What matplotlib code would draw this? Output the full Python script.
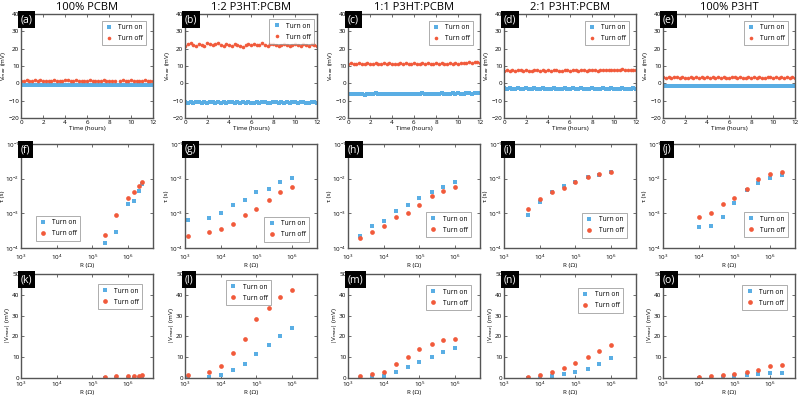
import numpy as np
import matplotlib
matplotlib.use("Agg")
import matplotlib.pyplot as plt

nan = np.nan
titles = ["100% PCBM", "1:2 P3HT:PCBM", "1:1 P3HT:PCBM", "2:1 P3HT:PCBM", "100% P3HT"]
labels_row1 = ["(a)", "(b)", "(c)", "(d)", "(e)"]
labels_row2 = ["(f)", "(g)", "(h)", "(i)", "(j)"]
labels_row3 = ["(k)", "(l)", "(m)", "(n)", "(o)"]

# Row 1: V_max vs time (hours), sampled across 0-12 h
a_on = [-0.9,-1.1,-1.0,-0.8,-1.2,-1.0,-0.9,-1.1,-1.0,-1.2,-0.9,-1.0,-1.1,-0.8,-1.0,-1.2,-1.0,-0.9,-1.1,-1.0,-0.8,-1.0,-1.1,-0.9,-1.2,-1.0,-0.9,-1.0,-1.1,-0.8,-1.0,-1.2,-0.9,-1.0,-1.1,-1.0,-0.9,-1.1,-1.0,-0.8,-1.1,-1.0,-1.2,-0.9,-1.0,-1.1,-0.9,-1.0,-1.1]
a_off = [1.6,1.2,1.8,1.4,1.5,2.0,1.3,1.7,1.1,1.5,1.6,1.2,1.8,1.4,1.6,1.3,1.9,2.1,1.5,1.4,1.7,1.2,1.6,1.5,1.3,1.8,1.4,1.6,1.2,1.5,1.7,1.3,1.6,1.4,1.5,nan,1.5,1.7,1.3,1.6,1.8,1.4,1.5,1.2,1.6,1.7,1.3,1.5,1.4]
b_on = [-10.8,-11.2,-10.9,-11.3,-10.7,-11.0,-11.1,-10.8,-11.2,-10.9,-11.0,-11.3,-10.8,-11.1,-10.9,-11.2,-11.0,-10.8,-11.1,-10.9,-11.3,-11.0,-11.2,-10.9,-11.4,-11.1,-10.9,-11.2,-11.0,-10.8,-11.1,-11.3,-10.9,-11.0,-11.2,-10.8,-11.1,-10.9,-11.3,-11.0,-10.8,-11.2,-11.0,-10.9,-11.1,-11.3,-10.9,-11.0,-11.2]
b_off = [21.5,22.8,23.1,22.0,21.6,22.9,22.4,21.8,23.0,22.5,21.9,22.7,23.2,22.1,21.5,22.6,22.3,21.8,22.9,22.2,21.7,20.8,21.9,22.6,22.3,22.8,21.9,22.4,23.0,22.1,21.8,22.5,22.9,22.2,21.7,22.4,22.8,22.0,21.6,22.3,22.9,22.1,21.8,22.5,22.2,21.7,22.6,22.0,21.8]
c_on = [-6.3,-6.0,-6.4,-6.1,-5.9,-6.2,-6.5,-6.0,-6.3,-6.1,-5.8,-6.2,-6.4,-6.0,-6.3,-6.1,-6.2,-5.9,-6.3,-6.0,-6.4,-6.1,-6.2,-5.9,-6.1,-6.3,-6.0,-5.8,-6.2,-6.0,-6.3,-5.9,-6.1,-6.0,-5.8,-6.2,-5.9,-6.1,-5.8,-6.0,-5.7,-5.9,-6.1,-5.8,-5.6,-5.9,-5.5,-5.7,-5.8]
c_off = [11.2,11.5,11.0,11.4,11.7,11.3,11.1,11.6,11.2,11.4,11.8,11.3,11.0,11.5,11.2,11.6,11.3,11.1,11.4,11.7,11.2,11.5,11.0,11.3,11.6,11.4,11.1,11.5,11.3,11.7,11.2,11.4,11.6,11.3,11.5,11.1,11.4,11.7,11.3,11.6,11.4,11.8,11.5,11.9,12.2,11.8,12.5,12.3,12.0]
d_on = [-2.8,-3.1,-2.9,-3.2,-3.0,-2.8,-3.1,-3.3,-2.9,-3.0,-3.2,-2.9,-3.1,-3.0,-2.8,-3.2,-3.0,-3.1,-2.9,-3.3,-3.0,-3.1,-2.9,-3.2,-3.0,-2.8,-3.1,-3.2,-2.9,-3.0,-3.3,-3.1,-2.9,-3.0,-3.2,-3.1,-2.9,-3.0,-3.2,-2.8,-3.1,-3.0,-3.3,-2.9,-3.1,-3.0,-3.2,-2.9,-3.1]
d_off = [7.2,7.6,7.4,7.8,7.3,7.5,7.7,7.2,7.6,7.4,7.3,7.7,7.5,7.1,7.6,7.4,7.8,7.3,7.5,7.6,7.2,7.4,7.7,7.5,7.3,7.6,7.8,7.4,7.5,7.7,7.3,7.6,7.5,7.8,7.4,7.6,7.7,7.5,7.9,7.6,7.8,7.5,7.7,8.0,7.6,7.8,7.7,7.9,7.6]
e_on = [-1.4,-1.7,-1.5,-1.3,-1.6,-1.8,-1.4,-1.5,-1.7,-1.3,-1.6,-1.5,-1.4,-1.8,-1.5,-1.6,-1.3,-1.7,-1.5,-1.4,-1.6,-1.8,-1.5,-1.3,-1.6,-1.4,-1.7,-1.5,-1.6,-1.3,-1.5,-1.7,-1.4,-1.6,-1.5,-1.8,-1.4,-1.6,-1.5,-1.3,-1.7,-1.5,-1.6,-1.4,-1.8,-1.5,-1.6,-1.4,-1.7]
e_off = [3.4,3.0,3.6,3.2,3.5,3.8,3.1,3.4,3.3,2.9,3.5,3.2,3.6,3.0,3.4,3.3,3.7,3.1,3.5,3.2,3.4,3.0,3.6,3.3,3.1,3.5,3.4,3.2,3.6,3.0,3.3,3.5,3.1,3.4,3.2,3.6,3.3,3.0,3.5,3.4,3.2,3.6,3.1,3.4,3.3,3.5,3.0,3.4,3.2]

# Resistances (Ohm)
R_f = [2.2e5, 4.7e5, 1e6, 1.5e6, 2e6, 2.5e6]
R_g = [1.2e3, 4.7e3, 1e4, 2.2e4, 4.7e4, 1e5, 2.2e5, 4.7e5, 1e6]
R_h = [2.2e3, 4.7e3, 1e4, 2.2e4, 4.7e4, 1e5, 2.2e5, 4.7e5, 1e6]
R_i = [4.7e3, 1e4, 2.2e4, 4.7e4, 1e5, 2.2e5, 4.7e5, 1e6]
R_j = [1e4, 2.2e4, 4.7e4, 1e5, 2.2e5, 4.7e5, 1e6, 2.2e6]

# Row 2: tau (s)
tau_on_f = [1.42e-4, 2.9e-4, 1.8e-3, 2.3e-3, 4.4e-3, 6.9e-3]
tau_off_f = [2.3e-4, 8.8e-4, 2.7e-3, 4.0e-3, 6.3e-3, 8.2e-3]
tau_on_g = [6.6e-4, 7.3e-4, 1.0e-3, 1.75e-3, 2.4e-3, 4.0e-3, 5.2e-3, 7.9e-3, 1.02e-2]
tau_off_g = [2.2e-4, 2.9e-4, 3.6e-4, 5.0e-4, 8.7e-4, 1.3e-3, 2.5e-3, 4.2e-3, 5.8e-3]
tau_on_h = [2.2e-4, 4.3e-4, 5.9e-4, 1.2e-3, 1.7e-3, 2.8e-3, 4.2e-3, 5.6e-3, 8.1e-3]
tau_off_h = [1.9e-4, 2.9e-4, 4.3e-4, 7.8e-4, 1.03e-3, 1.7e-3, 3.1e-3, 4.4e-3, 5.9e-3]
tau_on_i = [8.9e-4, 2.1e-3, 4.2e-3, 6.1e-3, 8.0e-3, 1.13e-2, 1.29e-2, 1.56e-2]
tau_off_i = [1.3e-3, 2.6e-3, 4.2e-3, 5.4e-3, 8.0e-3, 1.09e-2, 1.4e-2, 1.55e-2]
tau_on_j = [4.1e-4, 4.3e-4, 7.8e-4, 2.0e-3, 4.8e-3, 7.4e-3, 1.02e-2, 1.3e-2]
tau_off_j = [7.8e-4, 9.9e-4, 1.8e-3, 2.8e-3, 5.2e-3, 9.6e-3, 1.35e-2, 1.55e-2]

# Row 3: |V_max| (mV)
v_on_k = [0.1, 0.15, 0.15, 0.2, 0.2, 0.2]
v_off_k = [0.6, 1.0, 1.0, 1.1, 1.1, 1.3]
v_on_l = [0.1, 0.3, 1.6, 3.9, 6.8, 11.6, 15.8, 20.3, 24.1]
v_off_l = [1.3, 3.0, 5.6, 11.9, 18.8, 28.3, 33.8, 38.9, 42.1]
v_on_m = [0.2, 0.3, 1.0, 2.9, 5.3, 7.7, 10.1, 12.4, 14.5]
v_off_m = [1.0, 2.1, 2.9, 6.6, 10.3, 14.1, 16.4, 18.2, 18.7]
v_on_n = [0.05, 0.1, 0.8, 1.8, 2.9, 4.3, 6.9, 9.5]
v_off_n = [0.6, 1.3, 2.9, 5.0, 7.4, 10.0, 13.0, 15.8]
v_on_o = [0.0, 0.2, 0.3, 0.8, 1.3, 2.1, 2.6, 2.6]
v_off_o = [0.3, 0.8, 1.3, 2.1, 2.9, 4.0, 5.6, 6.1]

row1 = [(a_on, a_off), (b_on, b_off), (c_on, c_off), (d_on, d_off), (e_on, e_off)]
Rs = [R_f, R_g, R_h, R_i, R_j]
row2 = [(tau_on_f, tau_off_f), (tau_on_g, tau_off_g), (tau_on_h, tau_off_h),
        (tau_on_i, tau_off_i), (tau_on_j, tau_off_j)]
row3 = [(v_on_k, v_off_k), (v_on_l, v_off_l), (v_on_m, v_off_m),
        (v_on_n, v_off_n), (v_on_o, v_off_o)]

# legend placements (anchor points in axes fraction)
leg1 = [(0.95, 0.935), (0.98, 0.95), (0.95, 0.935), (0.95, 0.935), (0.95, 0.935)]
leg2 = [('lower left', (0.11, 0.07)), ('lower right', (0.94, 0.06)),
        ('lower right', (0.93, 0.105)), ('lower right', (0.93, 0.1)),
        ('lower right', (0.95, 0.105))]
leg3 = [('upper right', (0.92, 0.9)), ('upper center', (0.48, 0.94)),
        ('upper right', (0.93, 0.89)), ('upper right', (0.9, 0.865)),
        ('upper right', (0.94, 0.89))]

BLUE = "#5aaee4"
RED = "#f15a3b"
FRAME = "#555555"
W, H = 800, 396
lefts = [21, 185, 348, 504, 663]
aw = 132
rows_top = [14, 144, 274]
ah = 104
FS = 4.5

plt.rcParams['font.family'] = ['Open Sans', 'DejaVu Sans']
plt.rcParams['mathtext.fontset'] = 'dejavusans'
fig = plt.figure(figsize=(8, 3.96), dpi=100)

def style(ax, xpad=1.2):
    for s in ax.spines.values():
        s.set_color(FRAME)
        s.set_linewidth(1.0)
    ax.tick_params(which='both', direction='in', top=True, right=True,
                   labelsize=FS, color=FRAME, pad=1.2)
    ax.tick_params(axis='x', which='both', pad=xpad)
    ax.tick_params(which='major', length=2.5, width=0.6)
    ax.tick_params(which='minor', length=1.3, width=0.4)

def panel_label(ax, txt):
    ax.text(0.0, 1.0, txt, transform=ax.transAxes, ha='left', va='top',
            color='white', fontsize=7.5,
            bbox=dict(boxstyle='square,pad=0.25', fc='black', ec='none'))

def legend(ax, loc, anchor):
    lg = ax.legend(loc=loc, bbox_to_anchor=anchor, fontsize=4.8, frameon=True,
                   fancybox=False, edgecolor='#888888', handletextpad=0.8,
                   borderpad=0.5, labelspacing=0.6, handlelength=1.2,
                   borderaxespad=0)
    lg.get_frame().set_linewidth(0.6)

def axes_at(i, r):
    x0 = lefts[i] / W
    y0 = 1 - (rows_top[r] + ah) / H
    return fig.add_axes([x0, y0, aw / W, ah / H])

for i in range(5):
    # Row 1
    ax = axes_at(i, 0)
    on, off = row1[i]
    t_on = np.linspace(0, 12, len(on))
    t_off = np.linspace(0, 12, len(off))
    ax.plot(t_on, on, 's', color=BLUE, ms=2.2, mew=0, label='Turn on')
    ax.plot(t_off, off, 'o', color=RED, ms=2.6, mew=0, label='Turn off')
    ax.set_xlim(0, 12)
    ax.set_ylim(-20, 40)
    ax.set_xticks(range(0, 13, 2))
    ax.set_yticks(range(-20, 41, 10))
    ax.set_xlabel('Time (hours)', fontsize=FS, labelpad=1.0)
    ax.set_ylabel('V$_{max}$ (mV)', fontsize=FS, labelpad=0)
    ax.set_title(titles[i], fontsize=8, pad=3)
    style(ax)
    panel_label(ax, labels_row1[i])
    legend(ax, 'upper right', leg1[i])

    # Row 2
    ax = axes_at(i, 1)
    on, off = row2[i]
    ax.plot(Rs[i], on, 's', color=BLUE, ms=3.0, mew=0, label='Turn on')
    ax.plot(Rs[i], off, 'o', color=RED, ms=3.4, mew=0, label='Turn off')
    ax.set_xscale('log')
    ax.set_yscale('log')
    ax.set_xlim(1e3, 5e6)
    ax.set_ylim(1e-4, 1e-1)
    ax.xaxis.set_minor_locator(matplotlib.ticker.NullLocator())
    ax.yaxis.set_minor_locator(matplotlib.ticker.NullLocator())
    ax.set_xlabel('R (Ω)', fontsize=FS, labelpad=0.3)
    ax.set_ylabel('τ (s)', fontsize=FS, labelpad=0)
    style(ax, xpad=3.6)
    panel_label(ax, labels_row2[i])
    legend(ax, leg2[i][0], leg2[i][1])

    # Row 3
    ax = axes_at(i, 2)
    on, off = row3[i]
    ax.plot(Rs[i], on, 's', color=BLUE, ms=3.0, mew=0, label='Turn on')
    ax.plot(Rs[i], off, 'o', color=RED, ms=3.4, mew=0, label='Turn off')
    ax.set_xscale('log')
    ax.set_xlim(1e3, 5e6)
    ax.set_ylim(0, 50)
    ax.set_yticks(range(0, 51, 10))
    ax.xaxis.set_minor_locator(matplotlib.ticker.NullLocator())
    ax.set_xlabel('R (Ω)', fontsize=FS, labelpad=0.5)
    ax.set_ylabel('|V$_{max}$| (mV)', fontsize=FS, labelpad=0)
    style(ax)
    panel_label(ax, labels_row3[i])
    legend(ax, leg3[i][0], leg3[i][1])

fig.savefig('out.png', dpi=100)
